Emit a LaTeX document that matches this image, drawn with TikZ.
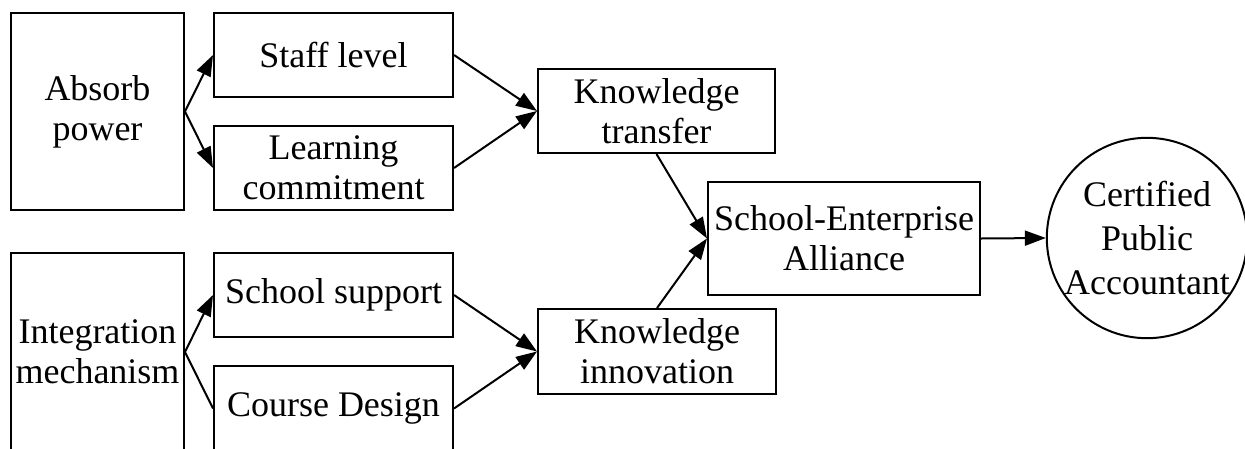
\documentclass[tikz,border=0pt]{standalone}
\usepackage{fontspec}
\setmainfont{Liberation Serif}
\usetikzlibrary{arrows.meta}
\tikzset{
  box/.style={draw, line width=2pt, inner sep=0pt, align=center,
    font=\fontsize{36}{40}\selectfont},
  circ/.style={draw, circle, line width=2pt, inner sep=0pt, align=center,
    minimum size=200pt, font=\fontsize{36}{44}\selectfont},
  conn/.style={line width=2pt},
  arr/.style={conn, -{Triangle[length=21pt,width=15pt]}}
}
\begin{document}
\begin{tikzpicture}[x=1pt,y=-1pt]
\useasboundingbox (0,0) rectangle (1245,448);
\clip (0,0) rectangle (1245,448);
\fill[white] (0,0) rectangle (1245,448);
\node[box, minimum width=173pt, minimum height=197pt] (absorb) at (97.5,111.5) {Absorb\\power};
\node[box, minimum width=239pt, minimum height=84pt] (staff) at (333.5,55) {Staff level};
\node[box, minimum width=239pt, minimum height=84pt] (learn) at (333.5,168) {Learning\\commitment};
\node[box, minimum width=173pt, minimum height=198pt] (integ) at (97.5,352) {Integration\\mechanism};
\node[box, minimum width=239pt, minimum height=84pt] (school) at (333.5,295) {School support};
\node[box, minimum width=239pt, minimum height=85pt] (course) at (333.5,408.5) {Course Design};
\node[box, minimum width=237pt, minimum height=84pt] (kt) at (656.5,111) {Knowledge\\transfer};
\node[box, minimum width=238pt, minimum height=85pt] (ki) at (657,351.5) {Knowledge\\innovation};
\node[box, minimum width=272pt, minimum height=113pt] (sea) at (844,238.5) {School-Enterprise\\Alliance};
\node[circ] (cpa) at (1147,238) {Certified\\Public\\Accountant};
\draw[arr] (absorb.east) -- (staff.west);
\draw[arr] (absorb.east) -- (learn.west);
\draw[arr] (integ.east) -- (school.west);
\draw[conn] (integ.east) -- (course.west);
\draw[arr] (staff.east) -- (kt.west);
\draw[arr] (learn.east) -- (kt.west);
\draw[arr] (school.east) -- (ki.west);
\draw[arr] (course.east) -- (ki.west);
\draw[arr] (kt.south) -- (sea.west);
\draw[arr] (ki.north) -- (sea.west);
\draw[arr] (sea.east) -- (cpa.west);
\end{tikzpicture}
\end{document}
